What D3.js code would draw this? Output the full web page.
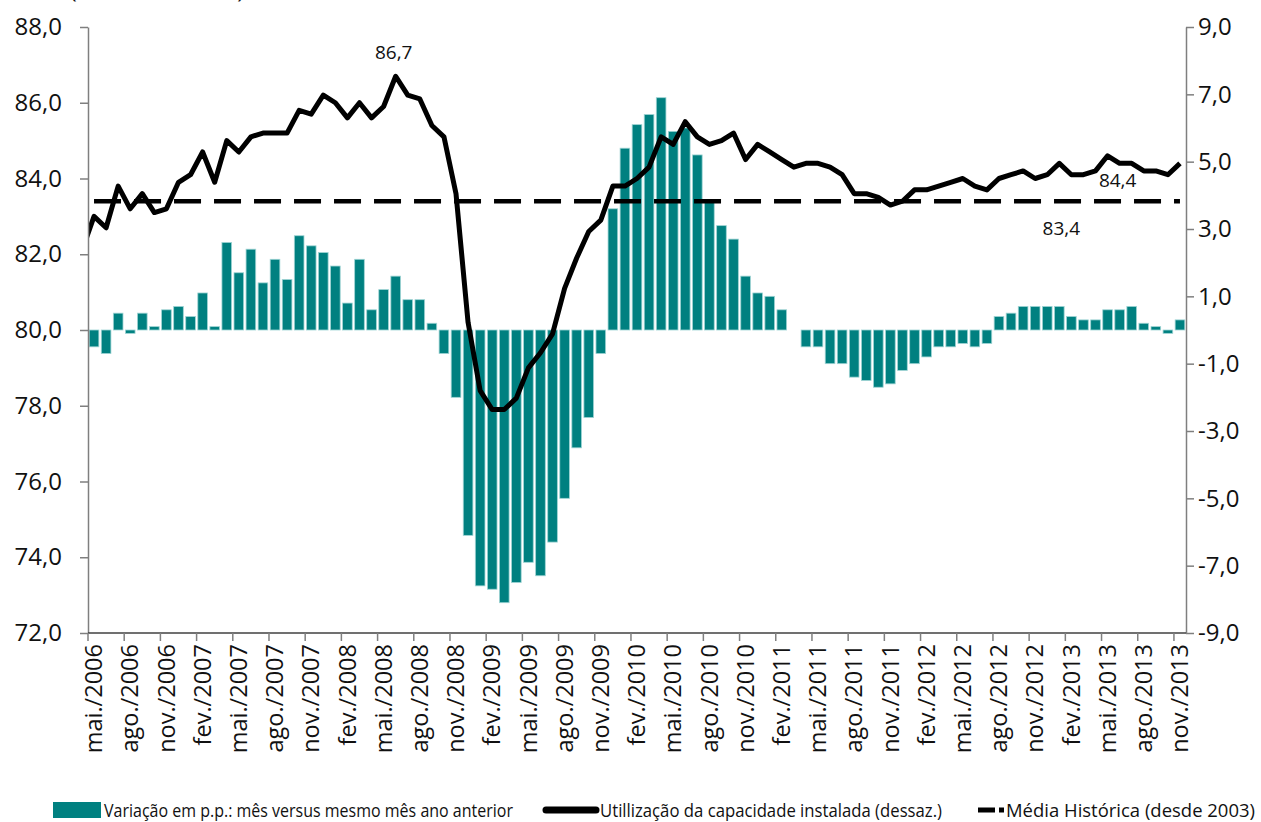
<!DOCTYPE html>
<html>
<head>
<meta charset="utf-8">
<script src="https://cdn.jsdelivr.net/npm/d3@7/dist/d3.min.js"></script>
<style>
  body { margin: 0; background: #ffffff; }
  text { font-family: "Open Sans", sans-serif; font-weight: 400; fill: #111111; }
</style>
</head>
<body>
<div id="canvas"></div>
<script>
// categories: mai./2006 .. nov./2013
let monthNames = ['jan.', 'fev.', 'mar.', 'abr.', 'mai.', 'jun.', 'jul.', 'ago.', 'set.', 'out.', 'nov.', 'dez.'];
let months = [];
for (let k = 4; k < 4 + 91; k++) {
  months.push(monthNames[k % 12] + '/' + (2006 + Math.floor(k / 12)));
}

// variação em p.p. (eixo direito)
let variacao = [
  -0.5, -0.7, 0.5, -0.1, 0.5, 0.1, 0.6, 0.7, 0.4, 1.1, 0.1, 2.6,
  1.7, 2.4, 1.4, 2.1, 1.5, 2.8, 2.5, 2.3, 1.9, 0.8, 2.1, 0.6,
  1.2, 1.6, 0.9, 0.9, 0.2, -0.7, -2.0, -6.1, -7.6, -7.7, -8.1, -7.5,
  -6.9, -7.3, -6.3, -5.0, -3.5, -2.6, -0.7, 3.6, 5.4, 6.1, 6.4, 6.9,
  5.9, 6.0, 5.2, 3.8, 3.1, 2.7, 1.6, 1.1, 1.0, 0.6, 0.0, -0.5,
  -0.5, -1.0, -1.0, -1.4, -1.5, -1.7, -1.6, -1.2, -1.0, -0.8, -0.5, -0.5,
  -0.4, -0.5, -0.4, 0.4, 0.5, 0.7, 0.7, 0.7, 0.7, 0.4, 0.3, 0.3,
  0.6, 0.6, 0.7, 0.2, 0.1, -0.1, 0.3
];

// utilização da capacidade instalada, dessaz. (eixo esquerdo)
let uci = [
  83.0, 82.7, 83.8, 83.2, 83.6, 83.1, 83.2, 83.9, 84.1, 84.7, 83.9, 85.0,
  84.7, 85.1, 85.2, 85.2, 85.2, 85.8, 85.7, 86.2, 86.0, 85.6, 86.0, 85.6,
  85.9, 86.7, 86.2, 86.1, 85.4, 85.1, 83.6, 80.2, 78.4, 77.9, 77.9, 78.2,
  79.0, 79.4, 79.9, 81.1, 81.9, 82.6, 82.9, 83.8, 83.8, 84.0, 84.3, 85.1,
  84.9, 85.5, 85.1, 84.9, 85.0, 85.2, 84.5, 84.9, 84.7, 84.5, 84.3, 84.4,
  84.4, 84.3, 84.1, 83.6, 83.6, 83.5, 83.3, 83.4, 83.7, 83.7, 83.8, 83.9,
  84.0, 83.8, 83.7, 84.0, 84.1, 84.2, 84.0, 84.1, 84.4, 84.1, 84.1, 84.2,
  84.6, 84.4, 84.4, 84.2, 84.2, 84.1, 84.4
];
let uciAbr2006 = 82.1; // ponto anterior, só aparece cortado na borda

let mediaHistorica = 83.4;

let leftTicks = [72, 74, 76, 78, 80, 82, 84, 86, 88];
let rightTicks = [-9, -7, -5, -3, -1, 1, 3, 5, 7, 9];

let legendLabels = [
  'Variação em p.p.: mês versus mesmo mês ano anterior',
  'Utillização da capacidade instalada (dessaz.)',
  'Média Histórica (desde 2003)'
];

let teal = '#008080';

function fmt(v) {
  return v.toFixed(1).replace('.', ',');
}

let svg = d3.select('#canvas').append('svg')
  .attr('width', 1261)
  .attr('height', 822)
  .style('display', 'block');

let x = d3.scaleBand()
  .domain(months)
  .range([88, 1186])
  .paddingInner(0.2)
  .paddingOuter(0.1);

let yLeft = d3.scaleLinear().domain([72, 88]).range([633, 27]);
let yRight = d3.scaleLinear().domain([-9, 9]).range([633, 27]);

function cx(i) {
  return x(months[0]) + x.bandwidth() / 2 + i * x.step();
}

svg.append('clipPath').attr('id', 'plot')
  .append('rect')
  .attr('x', 88).attr('y', 0)
  .attr('width', 1098).attr('height', 640);

// subtitle, cut off at the top of the picture
svg.append('text')
  .attr('x', 70)
  .attr('y', -2)
  .attr('textLength', 174)
  .attr('lengthAdjust', 'spacingAndGlyphs')
  .style('font-size', '20px')
  .text('(Em % e médias)');

// bars
svg.selectAll('rect.bar')
  .data(variacao)
  .enter()
  .append('rect')
  .attr('class', 'bar')
  .attr('x', function(d, i) { return x(months[i]); })
  .attr('y', function(d) { return yRight(Math.max(0, d)); })
  .attr('width', x.bandwidth())
  .attr('height', function(d) { return Math.abs(yRight(d) - yRight(0)); })
  .attr('fill', teal)
  .attr('stroke', function(d) { return d === 0 ? 'none' : '#9fd4d4'; })
  .attr('stroke-width', 0.8);

// média histórica
svg.append('line')
  .attr('x1', cx(0))
  .attr('x2', cx(months.length - 1))
  .attr('y1', yLeft(mediaHistorica))
  .attr('y2', yLeft(mediaHistorica))
  .attr('stroke', '#000')
  .attr('stroke-width', 4.5)
  .attr('stroke-dasharray', '27,13');

// UCI line
let linePts = [[-1, uciAbr2006]].concat(uci.map(function(d, i) { return [i, d]; }));
let line = d3.line()
  .x(function(d) { return cx(d[0]); })
  .y(function(d) { return yLeft(d[1]); });

svg.append('path')
  .datum(linePts)
  .attr('d', line)
  .attr('clip-path', 'url(#plot)')
  .attr('fill', 'none')
  .attr('stroke', '#000')
  .attr('stroke-width', 5)
  .attr('stroke-linejoin', 'round');

// axes
let axisColor = '#7f7f7f';

let leftAxis = svg.append('g')
  .attr('transform', 'translate(88,0)')
  .call(d3.axisLeft(yLeft).tickValues(leftTicks).tickSize(8).tickSizeOuter(0).tickPadding(18).tickFormat(fmt));

let rightAxis = svg.append('g')
  .attr('transform', 'translate(1186,0)')
  .call(d3.axisRight(yRight).tickValues(rightTicks).tickSize(8).tickSizeOuter(0).tickPadding(4).tickFormat(fmt));

[leftAxis, rightAxis].forEach(function(g) {
  g.select('.domain').attr('stroke', axisColor).attr('stroke-width', 1.5);
  g.selectAll('.tick line').attr('stroke', axisColor).attr('stroke-width', 1.5);
  g.selectAll('.tick text')
    .attr('fill', '#111')
    .style('font-size', '24px')
    .style('font-family', '"Open Sans", sans-serif');
});

// bottom axis
let bottom = svg.append('g');
bottom.append('line')
  .attr('x1', 88).attr('x2', 1186)
  .attr('y1', 633).attr('y2', 633)
  .attr('stroke', '#404040')
  .attr('stroke-width', 1.5);

let tickIdx = months.map(function(d, i) { return i; }).filter(function(i) { return i % 3 === 0; });

bottom.selectAll('line.xt')
  .data(tickIdx)
  .enter()
  .append('line')
  .attr('class', 'xt')
  .attr('x1', function(i) { return cx(i) - x.step() / 2; })
  .attr('x2', function(i) { return cx(i) - x.step() / 2; })
  .attr('y1', 633)
  .attr('y2', 641)
  .attr('stroke', axisColor)
  .attr('stroke-width', 1.5);

bottom.selectAll('text.xl')
  .data(tickIdx)
  .enter()
  .append('text')
  .attr('class', 'xl')
  .attr('transform', function(i) { return 'translate(' + cx(i) + ',644) rotate(-90)'; })
  .attr('text-anchor', 'end')
  .attr('dy', '0.35em')
  .style('font-size', '23.5px')
  .text(function(i) { return months[i]; });

// data labels
svg.append('text')
  .attr('x', cx(25) - 2)
  .attr('y', yLeft(uci[25]) - 17)
  .attr('text-anchor', 'middle')
  .style('font-size', '19px')
  .text(fmt(uci[25]));

svg.append('text')
  .attr('x', cx(85) - 2)
  .attr('y', yLeft(uci[90]) + 24)
  .attr('text-anchor', 'middle')
  .style('font-size', '19px')
  .text(fmt(uci[90]));

svg.append('text')
  .attr('x', cx(80) + 2)
  .attr('y', yLeft(mediaHistorica) + 34)
  .attr('text-anchor', 'middle')
  .style('font-size', '19px')
  .text(fmt(mediaHistorica));

// legend
let legend = svg.append('g');

legend.append('rect')
  .attr('x', 53).attr('y', 802)
  .attr('width', 48).attr('height', 16)
  .attr('fill', teal);
legend.append('text')
  .attr('x', 104).attr('y', 817)
  .attr('textLength', 409)
  .attr('lengthAdjust', 'spacingAndGlyphs')
  .style('font-size', '19px')
  .text(legendLabels[0]);

legend.append('line')
  .attr('x1', 546).attr('x2', 596)
  .attr('y1', 810).attr('y2', 810)
  .attr('stroke', '#000')
  .attr('stroke-width', 7)
  .attr('stroke-linecap', 'round');
legend.append('text')
  .attr('x', 600).attr('y', 817)
  .attr('textLength', 342)
  .attr('lengthAdjust', 'spacingAndGlyphs')
  .style('font-size', '19px')
  .text(legendLabels[1]);

legend.append('line')
  .attr('x1', 978).attr('x2', 1004)
  .attr('y1', 810).attr('y2', 810)
  .attr('stroke', '#000')
  .attr('stroke-width', 5)
  .attr('stroke-dasharray', '17,4');
legend.append('text')
  .attr('x', 1006).attr('y', 817)
  .attr('textLength', 249)
  .attr('lengthAdjust', 'spacingAndGlyphs')
  .style('font-size', '19px')
  .text(legendLabels[2]);
</script>
</body>
</html>
